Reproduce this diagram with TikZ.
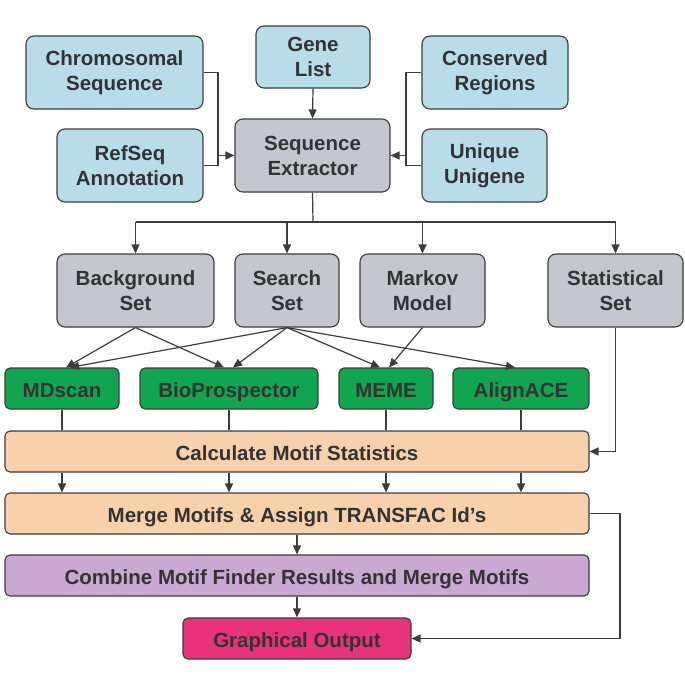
\documentclass[tikz,border=0pt]{standalone}
\usepackage{fontspec}
\setmainfont{Liberation Sans}
\usetikzlibrary{arrows.meta,calc}
\definecolor{cblue}{HTML}{B8DDE8}
\definecolor{cgray}{HTML}{C4C8CE}
\definecolor{cgreen}{HTML}{10A64F}
\definecolor{cpeach}{HTML}{F6D1AB}
\definecolor{clav}{HTML}{C9A8D1}
\definecolor{cpink}{HTML}{E8327B}
\definecolor{cline}{HTML}{3C3C3C}
\definecolor{ctext}{HTML}{333333}
\begin{document}
\begin{tikzpicture}[x=1pt,y=-1pt,
  box/.style={draw=cline,line width=1.1pt,rounded corners=8pt,align=center,inner sep=0pt,
    text=ctext,font=\fontsize{20.5}{25}\selectfont\bfseries},
  bl/.style={box,fill=cblue},
  gr/.style={box,fill=cgray},
  one/.style={box,rounded corners=5pt,text height=19pt,text depth=2pt},
  gn/.style={one,fill=cgreen},
  pc/.style={one,fill=cpeach},
  lv/.style={one,fill=clav},
  pk/.style={one,fill=cpink},
  ln/.style={draw=cline,line width=1.2pt},
  arr/.style={ln,-{Triangle[length=9pt,width=8pt]}}]
\useasboundingbox (0,0) rectangle (685,685);
% top sources
\node[bl,minimum width=177pt,minimum height=73pt] (chrom) at (114.5,72.5) {Chromosomal\\Sequence};
\node[bl,minimum width=114pt,minimum height=62pt] (gene) at (313,57) {Gene\\List};
\node[bl,minimum width=146pt,minimum height=73pt] (cons) at (495,72.5) {Conserved\\Regions};
\node[bl,minimum width=146pt,minimum height=73pt] (refseq) at (130,165.5) {RefSeq\\Annotation};
\node[bl,minimum width=125pt,minimum height=73pt] (unig) at (484.5,165.5) {Unique\\Unigene};
\node[gr,minimum width=155pt,minimum height=73pt] (extr) at (312.5,155.5) {Sequence\\Extractor};
% second row
\node[gr,minimum width=157pt,minimum height=73pt] (bg) at (135.5,290.5) {Background\\Set};
\node[gr,minimum width=104pt,minimum height=73pt] (search) at (287,290.5) {Search\\Set};
\node[gr,minimum width=125pt,minimum height=73pt] (markov) at (422.5,290.5) {Markov\\Model};
\node[gr,minimum width=135pt,minimum height=73pt] (stat) at (615.5,290.5) {Statistical\\Set};
% motif finders
\node[gn,minimum width=114pt,minimum height=41pt] (mdscan) at (62,388.5) {MDscan};
\node[gn,minimum width=178pt,minimum height=41pt] (bio) at (229,388.5) {BioProspector};
\node[gn,minimum width=94pt,minimum height=41pt] (meme) at (386,388.5) {MEME};
\node[gn,minimum width=136pt,minimum height=41pt] (align) at (521,388.5) {AlignACE};
% bars
\node[pc,minimum width=584pt,minimum height=41pt] (calc) at (297,451.5) {Calculate Motif Statistics};
\node[pc,minimum width=584pt,minimum height=41pt] (merge) at (297,513.5) {Merge Motifs \& Assign TRANSFAC Id’s};
\node[lv,minimum width=584pt,minimum height=41pt] (comb) at (297,575.5) {Combine Motif Finder Results and Merge Motifs};
\node[pk,minimum width=228pt,minimum height=41pt] (graph) at (297,638.5) {Graphical Output};
% junction coordinates
\coordinate (jl) at (218,155.5);
\coordinate (jlb) at (218,165.5);
\coordinate (jr) at (406,155.5);
\coordinate (jrb) at (406,165.5);
\coordinate (bus) at (313,222);
\coordinate (mr) at (620,513.5);
% left inputs
\draw[ln] (chrom.east) -| (jlb);
\draw[ln] (refseq.east) -- (jlb);
\draw[arr] (jl) -- (extr.west);
% right inputs
\draw[ln] (cons.west) -| (jrb);
\draw[ln] (unig.west) -- (jrb);
\draw[arr] (jr) -- (extr.east);
% gene list
\draw[arr] (gene.south) -- (extr.north);
% bus
\draw[ln] (extr.south) -- (bus);
\draw[ln] (bg.north |- bus) -- (stat.north |- bus);
\foreach \n in {bg,search,markov,stat}{\draw[arr] (\n.north |- bus) -- (\n.north);}
% sets to finders
\draw[arr] (bg.south) -- ($(mdscan.north)+(4,0)$);
\draw[arr] (bg.south) -- ($(bio.north)+(-5,0)$);
\draw[arr] (search.south) -- ($(mdscan.north)+(8,0)$);
\draw[arr] (search.south) -- ($(bio.north)+(4,0)$);
\draw[arr] (search.south) -- ($(meme.north)+(-6,0)$);
\draw[arr] (search.south) -- ($(align.north)+(-6,0)$);
\draw[arr] (markov.south) -- ($(meme.north)+(3,0)$);
% finders to calc
\foreach \n in {mdscan,bio,meme,align}{
  \draw[ln] (\n.south) -- (\n.south |- calc.north);
  \draw[arr] (calc.south -| \n.south) -- (merge.north -| \n.south);}
\draw[arr] (stat.south) |- (calc.east);
\draw[arr] (merge.south) -- (comb.north);
\draw[arr] (comb.south) -- (graph.north);
\draw[arr] (merge.east) -- (mr) |- (graph.east);
\end{tikzpicture}
\end{document}
